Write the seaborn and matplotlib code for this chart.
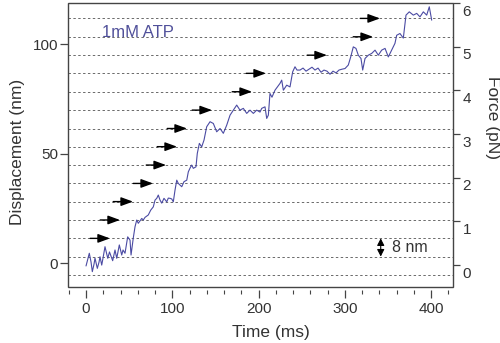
"""Optical-trap stepping trace: displacement vs time at 1 mM ATP."""

import matplotlib.pyplot as plt
import pandas as pd
import seaborn as sns
from matplotlib.patches import Rectangle
from matplotlib.ticker import MultipleLocator
from matplotlib.transforms import ScaledTranslation

# Trace: time (ms) and bead displacement (nm)
time_ms = [
    0.0, 2.3, 3.8, 5.8, 7.3, 9.3, 10.4, 13.1, 15.1, 16.2, 18.2, 19.7, 22.0,
    25.2, 27.2, 30.9, 33.6, 35.6, 38.6, 41.4, 42.9, 45.2, 48.3, 51.0, 52.2,
    54.8, 56.8, 58.8, 60.6, 64.6, 66.4, 68.4, 72.2, 75.0, 78.0, 80.0, 82.0,
    83.8, 85.8, 87.8, 90.4, 93.6, 95.4, 97.4, 99.4, 101.2, 103.2, 105.2,
    107.0, 111.0, 113.6, 116.8, 118.6, 120.6, 122.5, 124.4, 127.5, 129.0,
    131.4, 134.1, 136.8, 139.9, 143.8, 147.6, 151.5, 155.4, 159.2, 163.1,
    167.0, 170.8, 174.7, 178.5, 182.4, 186.3, 190.1, 194.0, 197.9, 201.7,
    203.7, 207.5, 209.5, 211.4, 213.3, 215.6, 219.1, 222.6, 224.9, 226.9,
    228.8, 232.7, 236.5, 239.6, 242.3, 244.6, 248.1, 251.6, 255.1, 258.5,
    262.0, 265.5, 269.0, 272.5, 275.9, 279.4, 282.9, 286.4, 289.9, 293.3,
    296.8, 300.3, 304.1, 306.9, 309.9, 313.0, 315.7, 318.8, 320.8, 323.5,
    327.3, 331.2, 335.1, 338.9, 342.8, 346.7, 350.5, 354.4, 358.2, 360.2,
    364.0, 367.9, 371.0, 374.8, 379.5, 383.4, 387.2, 391.1, 395.0, 398.0,
    400.8,
]
displacement_nm = [
    -1.2, 2.4, 4.6, 0.6, -3.8, -0.3, 2.4, -2.3, 0.6, 3.0, -0.8, 2.4, 7.6,
    2.3, 5.2, 1.2, 6.1, 2.3, 8.4, 3.8, 6.1, 4.6, 12.1, 10.6, 3.8,
    11.6, 16.7, 19.8, 18.3, 20.5, 19.8, 21.0, 22.1, 24.3, 25.8, 28.9, 29.7,
    31.2, 28.9, 27.5, 29.7, 28.1, 29.8, 29.7, 29.4, 28.1, 33.5, 38.0,
    36.5, 35.0, 37.3, 38.0, 41.8, 43.5, 44.9, 43.4, 44.1, 50.2,
    54.8, 53.2, 56.3, 62.4, 64.7, 63.9, 60.1, 61.6, 59.4, 63.1,
    67.7, 70.0, 72.3, 70.0, 70.8, 68.5, 70.0, 68.5, 70.0, 69.1,
    70.8, 71.5, 66.2, 67.7, 77.6, 75.9, 79.1, 81.0, 82.2, 83.7,
    79.1, 81.4, 80.6, 87.5, 89.8, 88.3, 88.3, 89.2, 87.8, 88.7,
    89.6, 88.3, 89.2, 87.3, 88.3, 87.8, 86.4, 87.8, 87.0, 88.3,
    88.7, 89.0, 90.6, 94.3, 98.9, 98.2, 95.1, 93.6, 88.3, 93.6,
    95.1, 95.9, 97.4, 95.1, 97.4, 98.2, 94.3, 97.4, 100.5, 104.2,
    105.0, 102.9, 113.4, 114.9, 113.4, 114.2, 112.6, 114.9, 113.4, 117.2,
    111.1,
]

# Dotted reference levels (one per 8 nm step) and step arrows
dashed_levels_nm = [
    -5.3, 3.1, 11.4, 19.8, 28.2, 36.5, 44.9, 53.3,
    61.6, 70.0, 78.4, 86.8, 95.1, 103.5, 111.9,
]
arrow_tip_ms = [
    27.8, 39.4, 54.5, 77.7, 92.8, 105.5, 117.1,
    146.1, 192.5, 208.7, 279.4, 332.8, 340.9,
]
arrow_level_nm = [
    11.4, 19.8, 28.2, 36.5, 44.9, 53.3, 61.6,
    70.0, 78.4, 86.8, 95.1, 103.5, 111.9,
]

# nm per pN, from where the two axes line up
trap_nm_per_pN = 19.97
force_zero_nm = -0.8

trace = pd.DataFrame({"time": time_ms, "disp": displacement_nm})

sns.set_theme(style="ticks")
plt.rcParams["font.family"] = ["Liberation Sans", "DejaVu Sans"]

axis_col = "#444444"
text_col = "#333333"
blue = "#4b4ba3"

fig = plt.figure(figsize=(5, 3.43), dpi=100)
ax = fig.add_axes([0.136, 0.164, 0.77, 0.827])

for lvl in dashed_levels_nm:
    ax.axhline(lvl, color="#6a6a6a", lw=0.7, ls=(0, (2.5, 2.5)), zorder=1)

sns.lineplot(data=trace, x="time", y="disp", ax=ax, color=blue, lw=0.8,
             sort=False, zorder=3)

for t, lvl in zip(arrow_tip_ms, arrow_level_nm):
    ax.annotate("", xy=(t, lvl), xytext=(t - 23, lvl),
                arrowprops=dict(arrowstyle="-|>,head_length=0.6,head_width=0.22",
                                color="black", lw=1.0, shrinkA=0, shrinkB=0),
                zorder=4)

# scale bar: one 8 nm step
ax.annotate("", xy=(341.7, dashed_levels_nm[2]), xytext=(341.7, dashed_levels_nm[1]),
            arrowprops=dict(arrowstyle="<|-|>,head_length=0.35,head_width=0.18",
                            color="black", lw=0.8, shrinkA=0, shrinkB=0))
ax.text(355, 7.2, "8 nm", fontsize=11.5, color=text_col, va="center", ha="left")
ax.text(18, 105.6, "1mM ATP", fontsize=12, color="#50509a", va="center", ha="left")

ax.set_xlim(-20.9, 425.5)
ax.set_ylim(-10.7, 118.9)
ax.set_xticks([0, 100, 200, 300, 400])
ax.xaxis.set_minor_locator(MultipleLocator(20))
ax.set_yticks([0, 50, 100])
ax.set_xlabel("Time (ms)", fontsize=12.5, color=text_col)
ax.set_ylabel("Displacement (nm)", fontsize=12.5, color=text_col, va="center")
ax.xaxis.set_label_coords(0.527, -0.135)
ax.yaxis.set_label_coords(-0.132, 0.475)

ax2 = ax.twinx()
ax2.set_position(ax.get_position())
lo, hi = ax.get_ylim()
ax2.set_ylim((lo - force_zero_nm) / trap_nm_per_pN, (hi - force_zero_nm) / trap_nm_per_pN)
ax2.set_yticks(range(0, 7))
ax2.set_ylabel("Force (pN)", fontsize=12.5, color=text_col, rotation=270, va="center")
ax2.yaxis.set_label_coords(1.103, 0.595)

for a in (ax, ax2):
    for s in a.spines.values():
        s.set_visible(False)
ax.spines["bottom"].set_position(("outward", 2))

ax.tick_params(axis="x", which="major", length=6, width=0.9, color=axis_col,
               labelsize=11, labelcolor=text_col, pad=3)
ax.tick_params(axis="x", which="minor", length=3, width=0.8, color=axis_col)
ax.tick_params(axis="y", length=6, width=0.9, color=axis_col,
               labelsize=11, labelcolor=text_col, pad=1)
ax2.tick_params(axis="y", length=5, width=0.9, color=axis_col,
                labelsize=11, labelcolor=text_col, pad=2)

# right-hand labels sit a little below their ticks in the original
shift = ScaledTranslation(0, -0.07, fig.dpi_scale_trans)
for lab in ax2.get_yticklabels():
    lab.set_transform(lab.get_transform() + shift)

ax.add_patch(Rectangle((0, 0), 1, 1, transform=ax.transAxes, fill=False,
                       edgecolor=axis_col, lw=1.0, clip_on=False, zorder=5))

fig.savefig("out.png", dpi=100)
